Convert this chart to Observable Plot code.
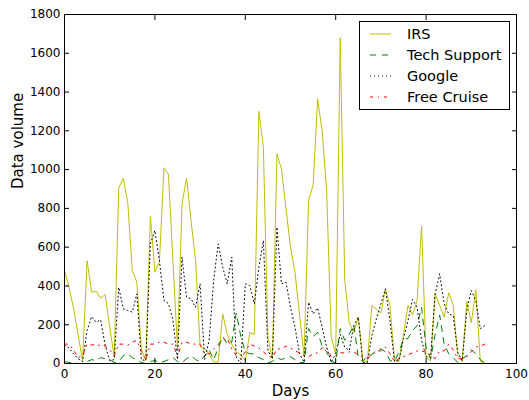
<!DOCTYPE html>
<html><head><meta charset="utf-8">
<script src="https://cdn.jsdelivr.net/npm/d3@7"></script>
<script src="https://cdn.jsdelivr.net/npm/@observablehq/plot@0.6"></script>
<style>
html,body{margin:0;padding:0;background:#fff;}
#wrap{position:relative;width:529px;height:400px;font-family:"DejaVu Sans",sans-serif;}
#legend{position:absolute;left:359px;top:21px;width:151px;height:89px;border:1px solid #000;box-sizing:border-box;background:#fff;}
.row{position:absolute;left:0;height:20px;width:150px;}
.row svg{position:absolute;left:10px;top:0;}
.row span{position:absolute;left:47px;top:1px;font-size:14.5px;line-height:18px;color:#000;white-space:nowrap;}
</style></head><body><div id="wrap"></div>
<script>
const seriesNames = ["IRS", "Tech Support", "Google", "Free Cruise"];
const seriesColors = ["#bfbf00", "#008000", "#000000", "#ff0000"];
const seriesDashes = [null, "6,6", "1,3", "3,5,1,5"];
const xTicks = [0, 20, 40, 60, 80, 100];
const yTicks = [0, 200, 400, 600, 800, 1000, 1200, 1400, 1600, 1800];
const xLabel = "Days";
const yLabel = "Data volume";

const irs = [480,395,285,150,15,530,368,372,337,355,190,33,905,955,830,480,420,76,15,760,
  471,523,1009,975,525,76,823,957,737,531,88,76,50,7,7,256,150,100,60,45,
  15,160,150,1300,1115,136,24,1081,1004,800,600,470,250,40,840,920,1365,1200,890,140,
  50,1680,430,210,160,240,15,7,300,280,260,385,300,20,10,150,300,250,320,710,
  30,15,360,300,240,365,300,40,10,320,210,380,10,5];
const techSupport = [10,5,5,0,0,10,20,15,30,25,20,5,10,40,50,30,20,5,0,10,
  15,5,10,20,30,10,5,25,40,20,10,40,70,20,80,140,100,110,260,140,
  60,50,50,30,20,5,10,30,20,30,35,20,5,5,180,140,160,90,60,10,
  5,180,120,150,200,30,10,40,45,70,75,60,15,10,60,125,130,170,195,290,
  80,25,150,250,100,50,30,5,25,40,70,50,20,0];
const google = [95,80,50,25,10,170,242,213,225,93,15,20,393,282,273,265,359,20,15,617,
  686,531,325,309,222,20,548,342,334,290,411,20,119,428,617,497,411,548,33,0,
  411,402,308,497,634,67,24,703,411,419,290,187,50,7,316,256,287,187,84,7,
  50,150,84,67,196,239,5,5,144,230,308,385,222,10,15,128,222,330,290,120,
  35,30,359,462,308,256,247,58,15,273,376,325,179,196];
const freeCruise = [100,100,70,30,40,100,95,100,90,90,70,40,100,100,95,110,120,60,20,100,
  100,110,110,100,100,35,110,110,100,100,100,50,50,75,100,120,130,76,40,25,
  60,100,90,80,60,40,30,75,75,90,80,65,55,40,35,50,55,80,85,35,
  40,55,55,60,60,45,30,30,40,65,65,85,50,10,25,35,45,55,65,60,
  65,40,25,65,65,100,70,25,25,35,60,85,90,100];

const allSeries = [irs, techSupport, google, freeCruise];

const lineMarks = allSeries.map((vals, k) =>
  Plot.line(vals.map((v, i) => ({day: i, value: v})), {
    x: "day", y: "value",
    stroke: seriesColors[k], strokeWidth: 1,
    strokeDasharray: seriesDashes[k] || undefined,
    strokeLinejoin: "round"
  })
);

const chart = Plot.plot({
  width: 529, height: 400,
  marginLeft: 64, marginRight: 13, marginTop: 14, marginBottom: 37,
  style: {fontFamily: "DejaVu Sans", fontSize: "12px", background: "white", color: "black"},
  x: {domain: [0, 100]},
  y: {domain: [0, 1800]},
  marks: [
    ...lineMarks,
    Plot.frame({stroke: "black", strokeWidth: 1}),
    Plot.axisX(xTicks, {anchor: "bottom", tickSize: -5, tickPadding: 10.5, label: null, fontSize: 12, tickFormat: d => String(d)}),
    Plot.axisX(xTicks, {anchor: "top", tickSize: -5, tickFormat: () => "", label: null}),
    Plot.axisY(yTicks, {anchor: "left", tickSize: -5, tickPadding: 9, label: null, fontSize: 12, tickFormat: d => String(d)}),
    Plot.axisY(yTicks, {anchor: "right", tickSize: -5, tickFormat: () => "", label: null}),
    Plot.text([xLabel], {text: d => d, frameAnchor: "bottom", dy: 27.4, fontSize: 15, lineAnchor: "middle"}),
    Plot.text([yLabel], {text: d => d, frameAnchor: "left", dx: -46.5, rotate: -90, fontSize: 15, lineAnchor: "middle"})
  ]
});

const wrap = document.getElementById("wrap");
wrap.appendChild(chart);

const legend = document.createElement("div");
legend.id = "legend";
const rowCenters = [11.7, 32.5, 53.5, 75];
seriesNames.forEach((name, k) => {
  const row = document.createElement("div");
  row.className = "row";
  row.style.top = (rowCenters[k] - 10) + "px";
  const ns = "http://www.w3.org/2000/svg";
  const svg = document.createElementNS(ns, "svg");
  svg.setAttribute("width", "22"); svg.setAttribute("height", "20");
  const ln = document.createElementNS(ns, "line");
  ln.setAttribute("x1", "0"); ln.setAttribute("x2", "21");
  ln.setAttribute("y1", "10"); ln.setAttribute("y2", "10");
  ln.setAttribute("stroke", seriesColors[k]); ln.setAttribute("stroke-width", "1");
  if (seriesDashes[k]) ln.setAttribute("stroke-dasharray", seriesDashes[k]);
  svg.appendChild(ln);
  const sp = document.createElement("span");
  sp.textContent = name;
  row.appendChild(svg); row.appendChild(sp);
  legend.appendChild(row);
});
wrap.appendChild(legend);
</script>
</body></html>
